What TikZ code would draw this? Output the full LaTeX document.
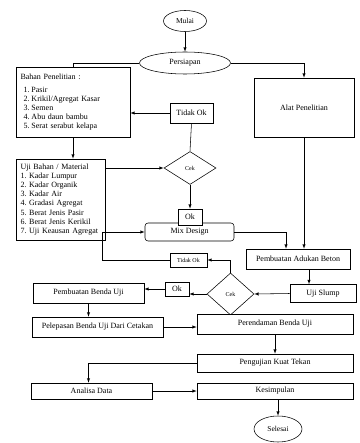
\documentclass[tikz,border=0pt]{standalone}
\usepackage{fontspec}
\setmainfont{Liberation Serif}
\usepackage{tikz}
\usetikzlibrary{shapes,arrows,positioning}
\frenchspacing

\tikzset{
  procbox/.style={draw, line width=0.55pt, fill=white, inner sep=1pt, font=\fontsize{8}{9}\selectfont},
  listbox/.style={draw, line width=0.55pt, align=left, inner xsep=4.5pt, font=\fontsize{8}{9.1}\selectfont},
  termoval/.style={draw, ellipse, line width=0.55pt, inner sep=0pt, font=\fontsize{7.5}{9}\selectfont},
  cekdiam/.style={draw, diamond, line width=0.55pt, inner sep=0pt, font=\fontsize{6}{7}\selectfont},
  flow/.style={->, >=latex, line width=0.55pt},
  link/.style={-, line width=0.55pt}
}

\begin{document}
\begin{tikzpicture}[x=1pt, y=-1pt]
    \useasboundingbox (0,0) rectangle (359,443);

    % Mulai dan persiapan
    \node (mulai) at (185,21) [termoval, minimum width=43pt, minimum height=21pt] {Mulai};
    \node (persiapan) at (185,63) [termoval, minimum width=91pt, minimum height=22pt, font=\fontsize{8}{9}\selectfont] {Persiapan};
    \draw[flow] (mulai) -- (persiapan);

    % Bahan dan alat
    \node (bahan) at (73,102) [listbox, text width=105pt, minimum height=70pt] {Bahan Penelitian :\\[4pt]
        \hspace{3pt}\makebox[8pt][l]{1.}Pasir\\
        \hspace{3pt}\makebox[8pt][l]{2.}Krikil/Agregat Kasar\\
        \hspace{3pt}\makebox[8pt][l]{3.}Semen\\
        \hspace{3pt}\makebox[8pt][l]{4.}Abu daun bambu\\
        \hspace{3pt}\makebox[8pt][l]{5.}Serat serabut kelapa};
    \node (alat) at (304,107.5) [procbox, minimum width=100pt, minimum height=59pt] {Alat Penelitian};
    \draw[link] (persiapan.west) -| (bahan.north);
    \draw[flow] (persiapan.east) -| (alat.north);

    % Uji bahan
    \node (ujibahan) at (60.5,199.5) [listbox, text width=80pt, minimum height=81pt] {Uji Bahan / Material\\
        1. Kadar Lumpur\\
        2. Kadar Organik\\
        3. Kadar Air\\
        4. Gradasi Agregat\\
        5. Berat Jenis Pasir\\
        6. Berat Jenis Kerikil\\
        7. Uji Keausan Agregat};
    \draw[flow] (bahan.south) -- (bahan.south |- ujibahan.north);

    % Cek bahan
    \node (cek) at (190,168) [cekdiam, minimum width=52pt, minimum height=33pt] {Cek};
    \node (tidakok) at (191.5,113) [procbox, minimum width=43pt, minimum height=20pt] {Tidak Ok};
    \draw[flow] (cek.west -| ujibahan.east) -- (cek.west);
    \draw[link] (cek.north) -- (tidakok.south);
    \draw[flow] (tidakok.west) -- (tidakok.west -| bahan.east);

    % Mix design
    \node (mix) at (189.5,232) [procbox, rounded corners=3pt, minimum width=89pt, minimum height=18pt] {Mix Design};
    \node (ok) at (190,217) [procbox, minimum width=24pt, minimum height=16pt] {Ok};
    \draw[flow] (cek.south) -- (ok.north);

    % Adukan dan slump
    \node (adukan) at (298,259) [procbox, minimum width=104pt, minimum height=20pt] {Pembuatan Adukan Beton};
    \node (slump) at (323,293.5) [procbox, minimum width=66pt, minimum height=18pt] {Uji Slump};
    \draw[flow] (mix.east) -| ([xshift=-12pt]adukan.north);
    \draw[flow] (alat.south) -- (alat.south |- adukan.north);
    \draw[flow] ([xshift=11pt]adukan.south) -- ([xshift=11pt]adukan.south |- slump.north);

    % Cek slump
    \node (cekslump) at (230.5,294) [cekdiam, minimum width=47pt, minimum height=42pt] {Cek};
    \node (tidakok2) at (188.5,260) [procbox, minimum width=37pt, minimum height=14pt, font=\fontsize{6}{7}\selectfont] {Tidak Ok};
    \node (ok2) at (177,289) [procbox, minimum width=24pt, minimum height=14pt] {Ok};
    \draw[flow] (slump.west) -- (cekslump.east);
    \draw[flow] (cekslump.north) |- (tidakok2.east);
    \draw[flow] (tidakok2.west) -- ++(-67,0) |- (mix.west);
    \draw[flow] (cekslump.west) -- (cekslump.west -| ok2.east);

    % Benda uji
    \node (benda) at (88.5,293) [procbox, minimum width=111pt, minimum height=20pt] {Pembuatan Benda Uji};
    \node (lepas) at (97.5,327) [procbox, minimum width=131pt, minimum height=20pt] {Pelepasan Benda Uji Dari Cetakan};
    \node (rendam) at (275,324) [procbox, minimum width=156pt, minimum height=20pt] {Perendaman Benda Uji};
    \node (tekan) at (275,363) [procbox, minimum width=156pt, minimum height=18pt] {Pengujian Kuat Tekan};
    \draw[flow] (ok2.west) -- (ok2.west -| benda.east);
    \draw[flow] (benda.south) -- (benda.south |- lepas.north);
    \draw[flow] (lepas.east) -- (lepas.east -| rendam.west);
    \draw[flow] (rendam) -- (tekan);

    % Analisa dan selesai
    \node (analisa) at (91.5,391) [procbox, minimum width=121pt, minimum height=16pt] {Analisa Data};
    \node (kesimpulan) at (275,391) [procbox, minimum width=156pt, minimum height=16pt] {Kesimpulan};
    \node (selesai) at (278,429) [termoval, minimum width=48pt, minimum height=26pt] {Selesai};
    \draw[flow] (tekan.west) -| ([xshift=-3pt]analisa.north);
    \draw[flow] (analisa) -- (kesimpulan);
    \draw[flow] (kesimpulan.south -| selesai.north) -- (selesai.north);
\end{tikzpicture}
\end{document}
